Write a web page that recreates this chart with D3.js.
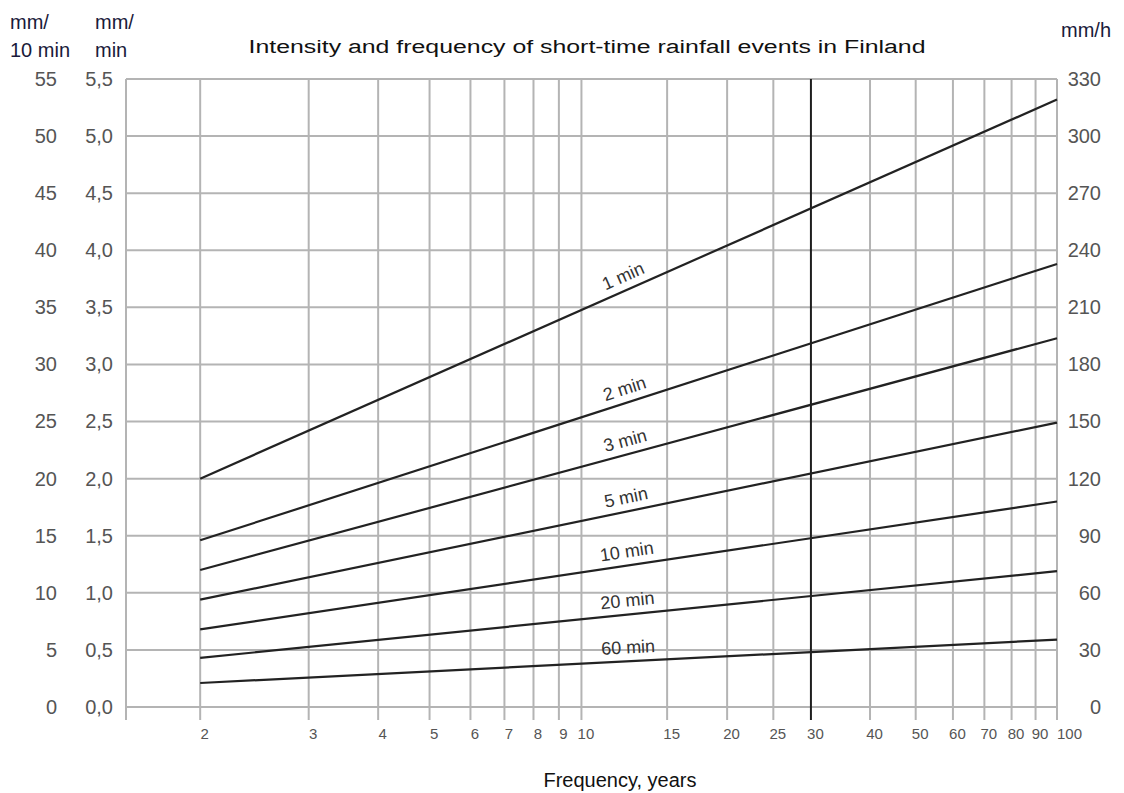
<!DOCTYPE html>
<html>
<head>
<meta charset="utf-8">
<script src="https://cdn.jsdelivr.net/npm/d3@7"></script>
<style>
  body { margin: 0; background: #fff; }
  svg { font-family: "Liberation Sans", Arial, sans-serif; }
</style>
</head>
<body>
<div id="chart"></div>
<script>
// Return periods (years) on the x axis
const returnPeriods = [2, 3, 4, 5, 6, 7, 8, 9, 10, 15, 20, 25, 30, 40, 50, 60, 70, 80, 90, 100];

// Y tick values (mm/min); the other two columns are x10 and x60 of these
const mmPerMinTicks = [0, 0.5, 1.0, 1.5, 2.0, 2.5, 3.0, 3.5, 4.0, 4.5, 5.0, 5.5];

// Rainfall durations and their intensity (mm/min) at T = 2 and T = 100 years
const durations = ["1 min", "2 min", "3 min", "5 min", "10 min", "20 min", "60 min"];
const intensityAt2 = [2.0, 1.46, 1.2, 0.94, 0.68, 0.43, 0.21];
const intensityAt100 = [5.32, 3.88, 3.23, 2.49, 1.80, 1.19, 0.59];

// Gumbel reduced variate for return period T
const gumbel = T => -Math.log(-Math.log(1 - 1 / T));

const width = 1124, height = 793;
const plot = { left: 126, right: 1057, top: 79, bottom: 707 };

const svg = d3.select("#chart").append("svg")
    .attr("width", width)
    .attr("height", height);

// Scales
const x = d3.scaleLinear()
    .domain([0, gumbel(100)])
    .range([plot.left, plot.right]);

const y = d3.scaleLinear().domain([0, 5.5]).range([plot.bottom, plot.top]);
const y10 = d3.scaleLinear().domain([0, 55]).range([plot.bottom, plot.top]);
const yh = d3.scaleLinear().domain([0, 330]).range([plot.bottom, plot.top]);

const gridColor = "#b4b4b4";

// Horizontal grid
svg.append("g")
    .selectAll("line")
    .data(mmPerMinTicks)
    .enter()
    .append("line")
    .attr("x1", plot.left)
    .attr("x2", plot.right)
    .attr("y1", d => y(d))
    .attr("y2", d => y(d))
    .attr("stroke", gridColor)
    .attr("stroke-width", 2);

// Left frame line
svg.append("line")
    .attr("x1", plot.left).attr("x2", plot.left)
    .attr("y1", plot.top).attr("y2", plot.bottom + 13)
    .attr("stroke", gridColor)
    .attr("stroke-width", 2);

// Vertical grid (also acts as ticks below the axis)
svg.append("g")
    .selectAll("line")
    .data(returnPeriods)
    .enter()
    .append("line")
    .attr("x1", d => x(gumbel(d)))
    .attr("x2", d => x(gumbel(d)))
    .attr("y1", plot.top)
    .attr("y2", plot.bottom + 13)
    .attr("stroke", d => d === 30 ? "#1e1e1e" : gridColor)
    .attr("stroke-width", 2);

// Axes (labels only)
const xAxis = svg.append("g")
    .attr("transform", `translate(0,${plot.bottom + 18})`)
    .call(d3.axisBottom(x)
        .tickValues(returnPeriods.map(gumbel))
        .tickSize(0)
        .tickFormat((d, i) => returnPeriods[i]));
xAxis.select(".domain").remove();
xAxis.selectAll("text")
    .attr("font-size", 15)
    .attr("fill", "#555")
    .attr("dx", (d, i) => returnPeriods[i] === 100 ? 12 : 4);

function styleY(g) {
    g.select(".domain").remove();
    g.selectAll("text").attr("font-size", 20).attr("fill", "#555");
}

svg.append("g")
    .attr("transform", "translate(57,0)")
    .call(d3.axisLeft(y10).tickValues(mmPerMinTicks.map(d => d * 10)).tickSize(0).tickPadding(0).tickFormat(d3.format("d")))
    .call(styleY);

svg.append("g")
    .attr("transform", "translate(113,0)")
    .call(d3.axisLeft(y).tickValues(mmPerMinTicks).tickSize(0).tickPadding(0)
        .tickFormat(d => d3.format(".1f")(d).replace(".", ",")))
    .call(styleY);

svg.append("g")
    .attr("transform", "translate(1101,0)")
    .call(d3.axisLeft(yh).tickValues(mmPerMinTicks.map(d => d * 60)).tickSize(0).tickPadding(0).tickFormat(d3.format("d")))
    .call(styleY);

// Series lines
const line = d3.line()
    .x(d => x(gumbel(d.T)))
    .y(d => y(d.v));

const series = durations.map((name, i) => ({
    name,
    points: [{ T: 2, v: intensityAt2[i] }, { T: 100, v: intensityAt100[i] }]
}));

svg.append("g")
    .selectAll("path")
    .data(series)
    .enter()
    .append("path")
    .attr("d", d => line(d.points))
    .attr("fill", "none")
    .attr("stroke", "#222")
    .attr("stroke-width", 2.2);

// Duration labels along each line
const labelT = 12.5;
svg.append("g")
    .selectAll("text")
    .data(series)
    .enter()
    .append("text")
    .attr("transform", d => {
        const [p0, p1] = d.points;
        const x0 = x(gumbel(p0.T)), y0 = y(p0.v);
        const x1 = x(gumbel(p1.T)), y1 = y(p1.v);
        const t = (gumbel(labelT) - gumbel(p0.T)) / (gumbel(p1.T) - gumbel(p0.T));
        const lx = x0 + t * (x1 - x0), ly = y0 + t * (y1 - y0);
        const ang = Math.atan2(y1 - y0, x1 - x0) * 180 / Math.PI;
        return `translate(${lx},${ly}) rotate(${ang}) translate(0,-8)`;
    })
    .attr("text-anchor", "middle")
    .attr("font-size", 18)
    .attr("fill", "#333")
    .text(d => d.name);

// Titles
svg.append("text")
    .attr("x", 587).attr("y", 53)
    .attr("text-anchor", "middle")
    .attr("font-size", 18)
    .attr("textLength", 677)
    .attr("lengthAdjust", "spacingAndGlyphs")
    .attr("fill", "#111")
    .text("Intensity and frequency of short-time rainfall events in Finland");

svg.append("text")
    .attr("x", 620).attr("y", 787)
    .attr("text-anchor", "middle")
    .attr("font-size", 20)
    .attr("fill", "#111")
    .text("Frequency, years");

// Unit labels
const unitLabels = [
    { text: "mm/", x: 10, y: 29 },
    { text: "10 min", x: 10, y: 57 },
    { text: "mm/", x: 95, y: 29 },
    { text: "min", x: 95, y: 57 },
    { text: "mm/h", x: 1061, y: 37 }
];
svg.append("g")
    .selectAll("text")
    .data(unitLabels)
    .enter()
    .append("text")
    .attr("x", d => d.x)
    .attr("y", d => d.y)
    .attr("font-size", 20)
    .attr("fill", "#1a1a3a")
    .text(d => d.text);
</script>
</body>
</html>
